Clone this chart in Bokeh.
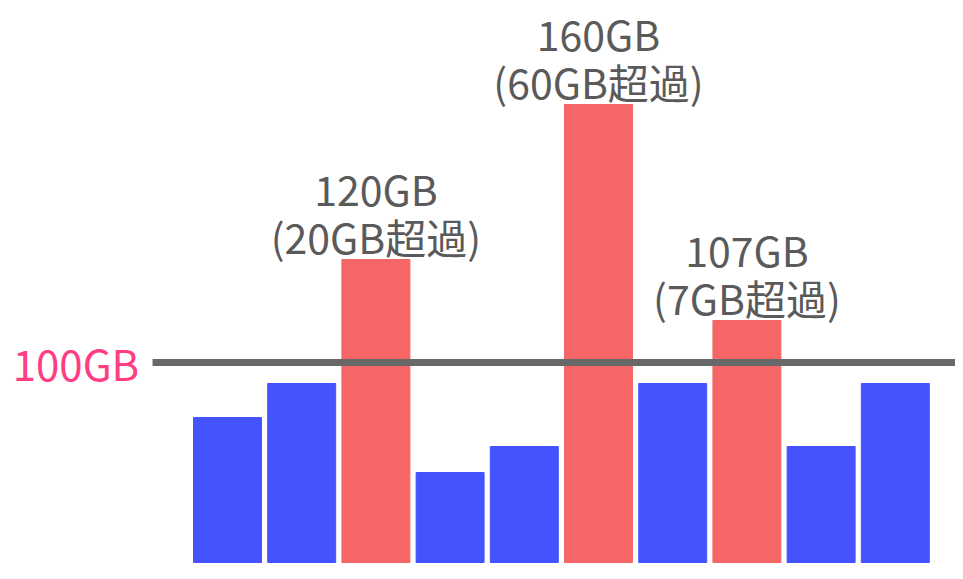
from bokeh.plotting import figure
from bokeh.models import ColumnDataSource, Range1d
from bokeh.core.properties import value
from bokeh.embed import file_html
from bokeh.resources import INLINE

# ---- data ----
bar_index = [0, 1, 2, 3, 4, 5, 6, 7, 8, 9]
bar_heights = [72.5, 89.5, 151.5, 45, 58, 229, 89.5, 121, 58, 89.5]
over_limit = [False, False, True, False, False, True, False, True, False, False]
limit_value = 100
limit_label = "100GB"
label_index = [2, 5, 7]
label_line1 = ["120GB", "160GB", "107GB"]
label_line2 = ["(20GB超過)", "(60GB超過)", "(7GB超過)"]

BLUE = "#4553ff"
RED = "#f76666"
colors = [RED if o else BLUE for o in over_limit]

FONT = value("'Noto Sans CJK JP', sans-serif")

p = figure(width=955, height=571, output_backend="svg", toolbar_location=None,
           x_range=Range1d(-3.059, 9.811), y_range=Range1d(-4.5, 281),
           min_border=0, outline_line_color=None)
p.axis.visible = False
p.grid.visible = False
p.background_fill_color = "white"
p.border_fill_color = "white"

src = ColumnDataSource(dict(x=bar_index, top=bar_heights, color=colors))
p.vbar(x="x", top="top", bottom=0, width=0.916, color="color", source=src)

# limit line
p.segment(x0=[-1.01], y0=[limit_value], x1=[10.5], y1=[limit_value],
          line_color="#686868", line_width=7)
p.text(x=[-1.19], y=[limit_value], text=[limit_label], text_align="right",
       text_baseline="middle", text_color="#ff3d84", text_font=FONT,
       text_font_size="42px")

lab_tops = [bar_heights[i] for i in label_index]
lsrc = ColumnDataSource(dict(x=label_index, y=lab_tops, l1=label_line1, l2=label_line2))
p.text(x="x", y="y", text="l2", source=lsrc, text_align="center",
       text_baseline="alphabetic", y_offset=-24, text_color="#5a5a5a",
       text_font=FONT, text_font_size="41px")
p.text(x="x", y="y", text="l1", source=lsrc, text_align="center",
       text_baseline="alphabetic", y_offset=-72, text_color="#5a5a5a",
       text_font=FONT, text_font_size="41px")

open("out.html", "w").write(file_html(p, INLINE))
